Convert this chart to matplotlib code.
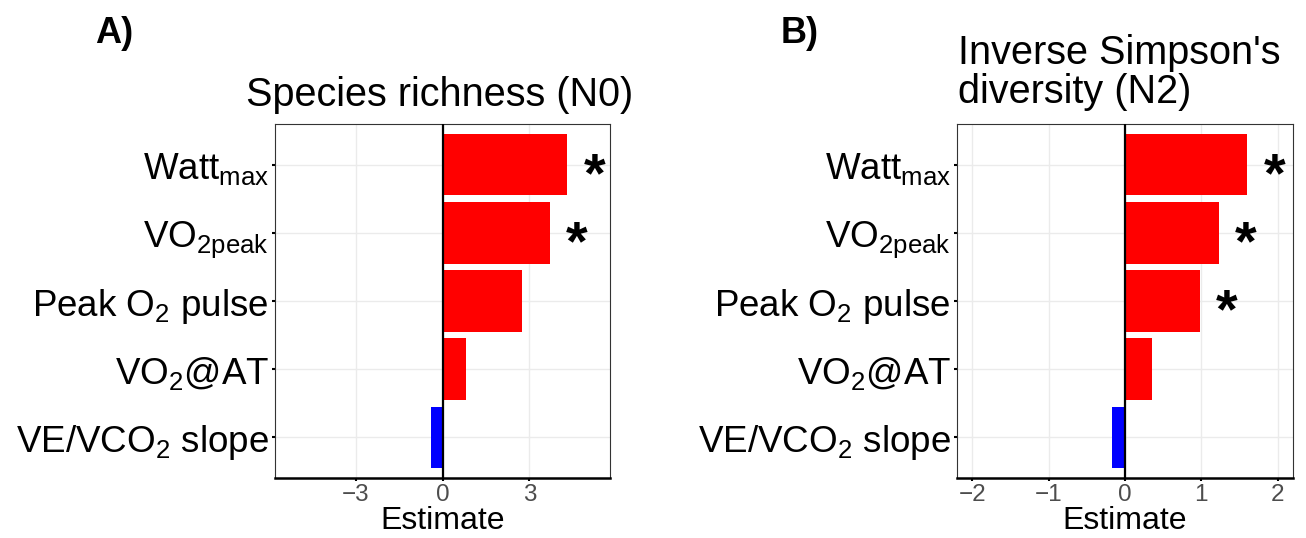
import numpy as np
import matplotlib
matplotlib.use("Agg")
from matplotlib import pyplot as plt

# %%
# Data (top row first)
labels = ['Watt$_{\\mathrm{max}}$', 'VO$_{\\mathrm{2peak}}$', 'Peak O$_2$ pulse',
          'VO$_2$@AT', 'VE/VCO$_2$ slope']
richness_est = [4.30, 3.70, 2.73, 0.80, -0.41]
richness_sig = [True, True, False, False, False]
simpson_est = [1.60, 1.23, 0.98, 0.35, -0.17]
simpson_sig = [True, True, True, False, False]

richness_ticks = [-3, 0, 3]
simpson_ticks = [-2, -1, 0, 1, 2]

# %%
plt.rcParams['font.family'] = ['Liberation Sans', 'DejaVu Sans']
plt.rcParams['mathtext.fontset'] = 'custom'
plt.rcParams['mathtext.rm'] = 'Liberation Sans'
plt.rcParams['mathtext.it'] = 'Liberation Sans:italic'
plt.rcParams['mathtext.bf'] = 'Liberation Sans:bold'

W, H = 1306, 538
fig = plt.figure(figsize=(W / 100, H / 100), dpi=100)


def panel(ax, vals, sig, ticks, lim):
    y = np.arange(len(vals))
    cols = ['#FF0000' if v > 0 else '#0000FF' for v in vals]
    ax.barh(y, vals, height=0.9, color=cols, zorder=2)
    ax.axvline(0, color='black', lw=1.6, zorder=3)
    for yi, v, s in zip(y, vals, sig):
        if s:
            ax.annotate('*', xy=(v, yi), xytext=(19.5, -9), textcoords='offset points',
                        ha='center', va='center', fontsize=40, fontweight='bold')
    ax.set_xlim(-lim, lim)
    ax.set_ylim(len(vals) - 0.4, -0.6)
    ax.set_yticks(y)
    ax.set_yticklabels(labels, fontsize=26.5, color='black')
    ax.set_xticks(ticks)
    ax.tick_params(axis='x', labelsize=17.5, labelcolor='#4D4D4D', length=2.5, width=1.5, pad=2)
    ax.tick_params(axis='y', length=2.5, width=1.5, pad=2)
    ax.grid(True, color='#EBEBEB', lw=1, zorder=0)
    ax.set_axisbelow(True)
    for sp in ['top', 'left', 'right']:
        ax.spines[sp].set_color('#333333')
        ax.spines[sp].set_linewidth(0.8)
    ax.spines['bottom'].set_color('black')
    ax.spines['bottom'].set_linewidth(1.8)
    ax.set_xlabel('Estimate', fontsize=23, labelpad=0)


axA = fig.add_axes([275 / W, 1 - 478 / H, 335 / W, 354 / H])
panel(axA, richness_est, richness_sig, richness_ticks, 5.78)

axB = fig.add_axes([957 / W, 1 - 478 / H, 336 / W, 354 / H])
panel(axB, simpson_est, simpson_sig, simpson_ticks, 2.2)

# titles and panel letters
fig.text(440 / W, 1 - 106 / H, 'Species richness (N0)', ha='center', va='baseline', fontsize=28.5)
fig.text(958 / W, 1 - 64 / H, "Inverse Simpson's", ha='left', va='baseline', fontsize=28.5)
fig.text(958 / W, 1 - 103 / H, 'diversity (N2)', ha='left', va='baseline', fontsize=28.5)
fig.text(95 / W, 1 - 43 / H, 'A)', ha='left', va='baseline', fontsize=26, fontweight='bold')
fig.text(781 / W, 1 - 43 / H, 'B)', ha='left', va='baseline', fontsize=26, fontweight='bold')

fig.savefig('out.png', dpi=100)
